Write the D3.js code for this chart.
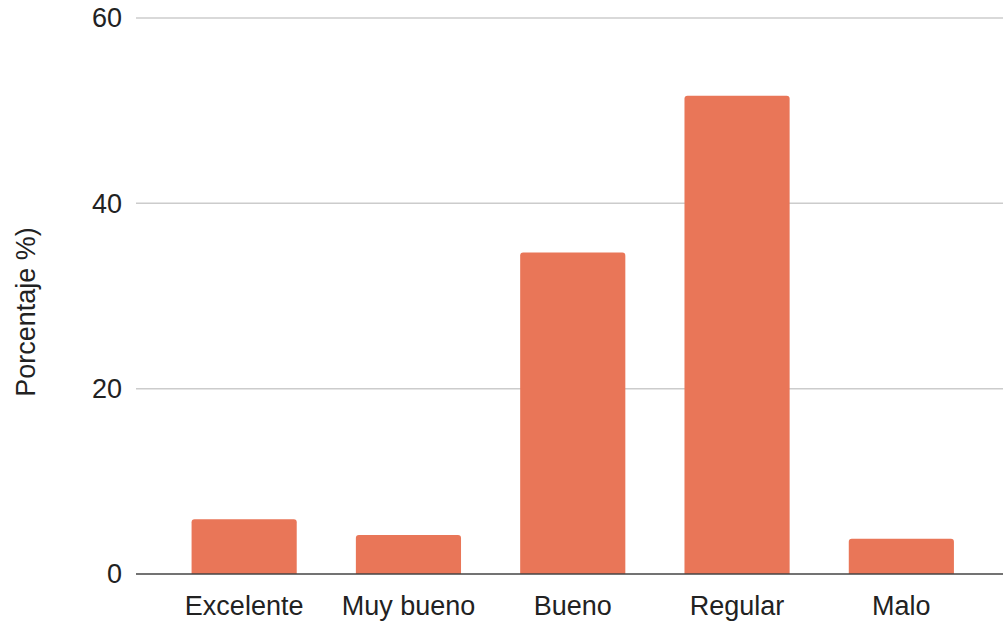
<!DOCTYPE html>
<html lang="es">
<head>
  <meta charset="UTF-8">
  <title>Porcentaje</title>
  <style>
    body { margin: 0; background: #fff; }
    text { font-family: "Liberation Sans", Arial, sans-serif; fill: #222; }
  </style>
</head>
<body>
  <svg width="1003" height="625"></svg>
  <script src="https://d3js.org/d3.v7.min.js"></script>
  <script>

  // data
  var categories = ['Excelente', 'Muy bueno', 'Bueno', 'Regular', 'Malo'];
  var values = [5.9, 4.2, 34.7, 51.6, 3.8];
  var yTicks = [0, 20, 40, 60];

  var svg = d3.select('svg');

  var plotLeft = 136, plotRight = 1003, plotTop = 18, plotBottom = 574;
  var fontSize = '27px';

  var x = d3.scaleBand()
    .domain(categories)
    .range([162, 983.5])
    .paddingInner(0.36)
    .paddingOuter(0.18);

  var y = d3.scaleLinear().domain([0, 60]).range([plotBottom, plotTop]);

  // gridlines
  svg.append('g')
    .selectAll('line')
    .data(yTicks.filter(function(d) { return d > 0; }))
    .enter().append('line')
    .attr('x1', plotLeft).attr('x2', plotRight)
    .attr('y1', function(d) { return y(d); })
    .attr('y2', function(d) { return y(d); })
    .attr('stroke', '#cccccc')
    .attr('stroke-width', 1.5);

  // y tick labels
  svg.append('g')
    .selectAll('text')
    .data(yTicks)
    .enter().append('text')
    .attr('x', 122)
    .attr('y', function(d) { return y(d); })
    .attr('dy', '0.35em')
    .attr('text-anchor', 'end')
    .style('font-size', fontSize)
    .text(function(d) { return d; });

  // bars with rounded tops
  var r = 3;
  svg.append('g')
    .selectAll('path')
    .data(values)
    .enter().append('path')
    .attr('d', function(d, i) {
      var x0 = x(categories[i]), w = x.bandwidth();
      var y0 = y(d), y1 = y(0);
      return 'M' + x0 + ',' + y1 +
        'V' + (y0 + r) +
        'Q' + x0 + ',' + y0 + ' ' + (x0 + r) + ',' + y0 +
        'H' + (x0 + w - r) +
        'Q' + (x0 + w) + ',' + y0 + ' ' + (x0 + w) + ',' + (y0 + r) +
        'V' + y1 + 'Z';
    })
    .attr('fill', '#e97658');

  // baseline
  svg.append('line')
    .attr('x1', plotLeft).attr('x2', plotRight)
    .attr('y1', y(0)).attr('y2', y(0))
    .attr('stroke', '#444')
    .attr('stroke-width', 1.5);

  // x labels
  svg.append('g')
    .selectAll('text')
    .data(categories)
    .enter().append('text')
    .attr('x', function(d) { return x(d) + x.bandwidth() / 2; })
    .attr('y', 615)
    .attr('text-anchor', 'middle')
    .style('font-size', fontSize)
    .text(function(d) { return d; });

  // y axis title
  svg.append('text')
    .attr('transform', 'translate(35,312) rotate(-90)')
    .attr('text-anchor', 'middle')
    .style('font-size', fontSize)
    .text('Porcentaje %)');

  </script>
</body>
</html>
